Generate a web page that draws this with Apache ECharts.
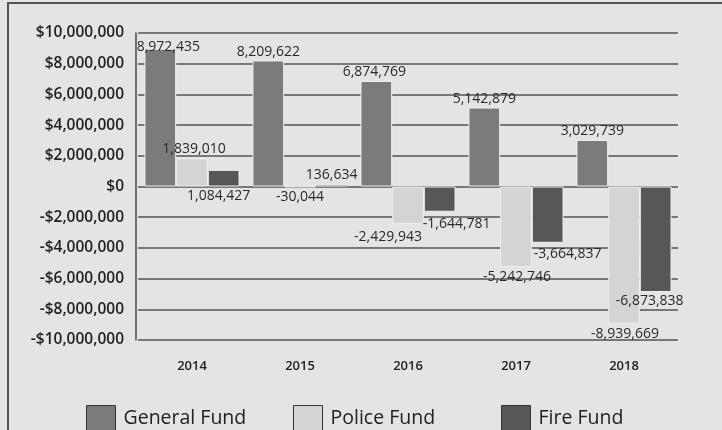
<!DOCTYPE html>
<html>
<head>
<meta charset="utf-8">
<script src="https://cdn.jsdelivr.net/npm/echarts@6/dist/echarts.min.js"></script>
<style>
html,body{margin:0;padding:0;background:#e4e4e4;}
#c{width:722px;height:430px;}
</style>
</head>
<body>
<div id="c"></div>
<script>
var years = ['2014', '2015', '2016', '2017', '2018'];
var generalFund = [8972435, 8209622, 6874769, 5142879, 3029739];
var policeFund = [1839010, -30044, -2429943, -5242746, -8939669];
var fireFund = [1084427, 136634, -1644781, -3664837, -6873838];
var seriesNames = ['General Fund', 'Police Fund', 'Fire Fund'];
var yTicks = { min: -10000000, max: 10000000, interval: 2000000 };

var colors = ['#7b7b7b', '#d4d4d4', '#575757'];
var fmtNum = function (v) {
  var s = Math.abs(v).toString().replace(/\B(?=(\d{3})+(?!\d))/g, ',');
  return (v < 0 ? '-' : '') + s;
};
var fmtMoney = function (v) {
  var s = Math.abs(v).toString().replace(/\B(?=(\d{3})+(?!\d))/g, ',');
  return (v < 0 ? '-$' : '$') + s;
};

// label nudges (layout only)
var nudges = [
  [[8, 7], [0, 1], [-2, 0], [0, 0], [0, 0]],
  [[2, 0], [0, 1], [-20, 4], [1, 1], [1, 1]],
  [[-5, 1], [0, 0], [17, 3], [20, 2], [-6, 0]]
];

function buildData(values, si) {
  return values.map(function (v, i) {
    var pos = v >= 0 ? 'top' : 'bottom';
    if (si === 2 && i === 0) pos = 'bottom';
    return {
      value: v,
      label: { position: pos, offset: nudges[si][i] }
    };
  });
}

var allValues = [generalFund, policeFund, fireFund];
var series = allValues.map(function (vals, si) {
  return {
    name: seriesNames[si],
    type: 'bar',
    data: buildData(vals, si),
    barGap: '0%',
    barCategoryGap: '12%',
    itemStyle: { color: colors[si], borderColor: '#efefef', borderWidth: 1 },
    label: {
      show: true,
      distance: 2,
      color: '#2a2a2a',
      fontFamily: 'Open Sans',
      fontSize: 14,
      formatter: function (p) { return fmtNum(p.value); }
    }
  };
});

var legendBase = function (name, left) {
  return {
    data: [name],
    left: left,
    top: 405,
    padding: 0,
    itemWidth: 29,
    itemHeight: 25,
    itemGap: 0,
    icon: 'rect',
    itemStyle: { borderColor: '#333', borderWidth: 1 },
    textStyle: { fontFamily: 'Open Sans', fontSize: 19.5, color: '#222', padding: [0, 0, 0, 3] },
    selectedMode: false
  };
};

var chart = echarts.init(document.getElementById('c'), null, { renderer: 'canvas' });
chart.setOption({
  backgroundColor: '#e4e4e4',
  animation: false,
  grid: { left: 138, right: 44, top: 33, bottom: 90, containLabel: false },
  legend: [
    legendBase('General Fund', 86),
    legendBase('Police Fund', 293),
    legendBase('Fire Fund', 501)
  ],
  xAxis: {
    type: 'category',
    data: years,
    axisLine: { show: false, onZero: false },
    axisTick: { show: false },
    axisLabel: { margin: 20, color: '#222', fontFamily: 'Open Sans', fontSize: 13, fontWeight: 600 }
  },
  yAxis: {
    type: 'value',
    min: yTicks.min,
    max: yTicks.max,
    interval: yTicks.interval,
    offset: 2,
    axisLine: { show: true, lineStyle: { color: '#4a4a4a', width: 1.5 } },
    axisTick: { show: false },
    splitLine: { show: true, lineStyle: { color: '#555', width: 1.5 } },
    axisLabel: {
      margin: 12,
      color: '#222',
      fontFamily: 'Open Sans',
      fontSize: 15.5,
      fontWeight: 600,
      formatter: function (v) { return fmtMoney(v); }
    }
  },
  series: series,
  graphic: [
    {
      type: 'rect',
      shape: { x: 8, y: 3, width: 740, height: 450 },
      style: { fill: 'none', stroke: '#555', lineWidth: 2 },
      silent: true
    }
  ]
});
</script>
</body>
</html>
